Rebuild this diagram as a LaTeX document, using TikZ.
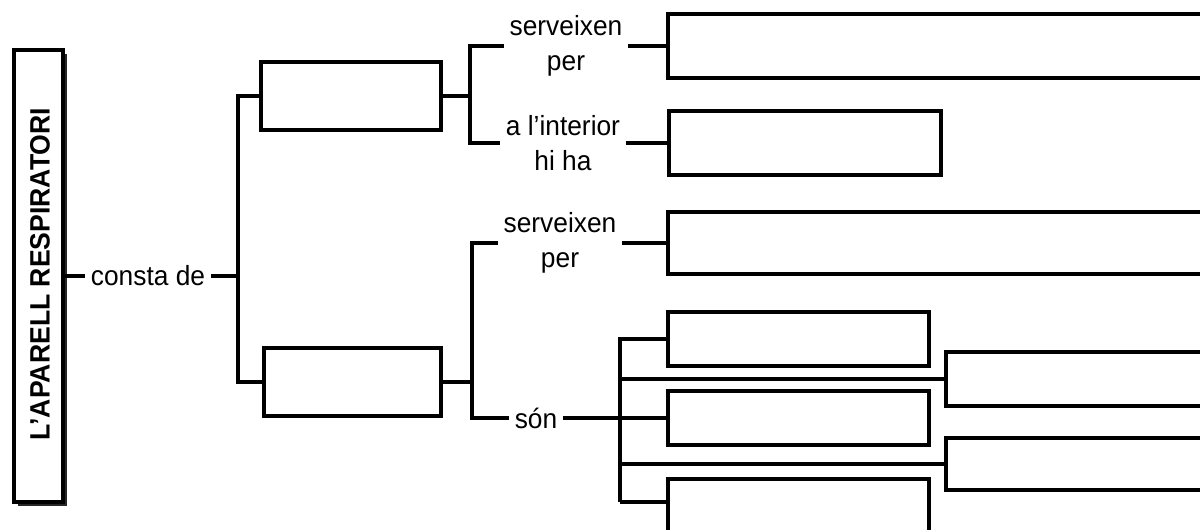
\documentclass[tikz,border=0pt]{standalone}
\usepackage{fontspec}
\setmainfont{Liberation Sans}[FakeStretch=0.95]
\usetikzlibrary{
  chains,
  scopes,
  shadows
}

\begin{document}
\begin{tikzpicture}[
      x=1pt,y=-1pt,
      box/.style={
         rectangle,
         draw=black,
         fill=white,
         line width=4pt,
         inner sep=0pt
      },
      word/.style={
         rectangle,
         align=center,
         inner xsep=4pt,
         inner ysep=0pt,
         font=\fontsize{27.7}{35}\selectfont
      },
      point/.style={coordinate},
      line width=4pt,
      hv path/.style={to path={-| (\tikztotarget)}},
      vh path/.style={to path={|- (\tikztotarget)}}
    ]
    \clip (0,0) rectangle (1200,530);
    % title
    \node (ttl) [box, minimum width=49pt, minimum height=452pt,
       drop shadow={shadow xshift=4pt,shadow yshift=-4pt,opacity=1,fill=black!85}] at (38.5,275.5) {};
    \node (ttltext) [rotate=90, font=\fontsize{28}{30}\selectfont\bfseries] at (40,274) {L’APARELL RESPIRATORI};
    \node (consta) [word] at (148,275.5) {consta de};
    \node (j1) [point] at (238,275.5) {};
    % first level
    \node (a) [box, minimum width=180pt, minimum height=68pt] at (351,96) {};
    \node (b) [box, minimum width=177pt, minimum height=68pt] at (352.5,382) {};
    \node (j2) [point] at (470,96) {};
    \node (j3) [point] at (472,382) {};
    % second level
    \node (t1) [word] at (566,46) {serveixen\\per};
    \node (t2) [word] at (563,143) {a l’interior\\hi ha};
    \node (t3) [word] at (560,243) {serveixen\\per};
    \node (son) [word] at (536,418) {són};
    \node (c) [box, minimum width=547pt, minimum height=64pt] at (941.5,46) {};
    \node (d) [box, minimum width=272pt, minimum height=64pt] at (805,143) {};
    \node (e) [box, minimum width=547pt, minimum height=62pt] at (941.5,243) {};
    % third level
    \node (j4) [point] at (620,418) {};
    \node (k4) [point] at (620,502) {};
    \node (f1) [box, minimum width=261pt, minimum height=54pt] at (798.5,339) {};
    \node (f2) [box, minimum width=261pt, minimum height=54pt] at (798.5,418) {};
    \node (f3) [box, minimum width=261pt, minimum height=58pt] at (798.5,508) {};
    \node (g1) [box, minimum width=269pt, minimum height=54pt] at (1080.5,379) {};
    \node (g2) [box, minimum width=269pt, minimum height=52pt] at (1080.5,464) {};

  { [start chain]
       \chainin (ttl);
       \chainin (consta) [join];
  }
  { [start chain]
       \chainin (consta);
       \chainin (j1)     [join];
       \chainin (a)      [join=by vh path];
  }
  { [start chain]
       \chainin (j1);
       \chainin (b)      [join=by vh path];
  }
  { [start chain]
       \chainin (a);
       \chainin (j2)     [join];
       \chainin (t1)     [join=by vh path];
       \chainin (c)      [join];
  }
  { [start chain]
       \chainin (j2);
       \chainin (t2)     [join=by vh path];
       \chainin (d)      [join];
  }
  { [start chain]
       \chainin (b);
       \chainin (j3)     [join];
       \chainin (t3)     [join=by vh path];
       \chainin (e)      [join];
  }
  { [start chain]
       \chainin (j3);
       \chainin (son)    [join=by vh path];
       \chainin (f2)     [join];
  }
  { [start chain]
       \chainin (j4);
       \chainin (f1)     [join=by vh path];
  }
  { [start chain]
       \chainin (j4);
       \chainin (g1)     [join=by vh path];
  }
  { [start chain]
       \chainin (j4);
       \chainin (g2)     [join=by vh path];
  }
  { [start chain]
       \chainin (j4);
       \chainin (k4)     [join];
  }
  \draw (k4) -- (k4 -| f3.west);
\end{tikzpicture}
\end{document}
